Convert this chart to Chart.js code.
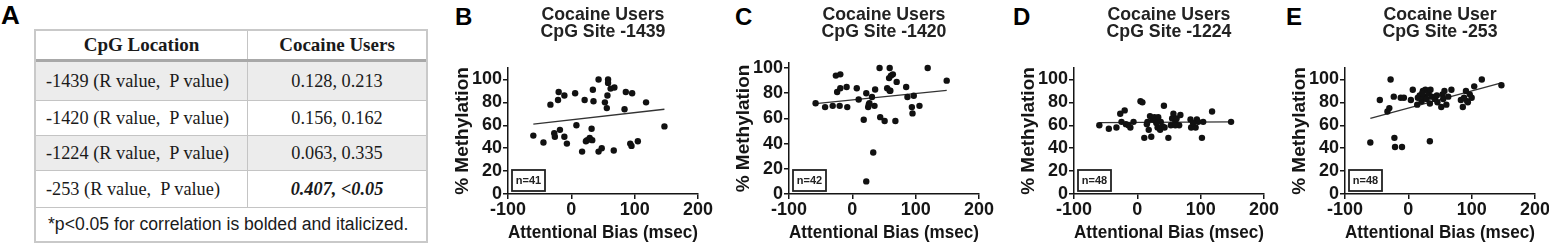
<!DOCTYPE html>
<html><head><meta charset="utf-8">
<script src="https://cdn.jsdelivr.net/npm/chart.js@4.4.1/dist/chart.umd.min.js"></script>
<style>
html,body{margin:0;padding:0;background:#fff;overflow:hidden;width:1549px;height:246px;}
body{position:relative;font-family:"Liberation Sans",Arial,sans-serif;color:#1a1a1a;}
.letter{position:absolute;font-weight:bold;font-size:24px;line-height:24px;color:#000;}
.ptitle{position:absolute;width:220px;text-align:center;font-weight:bold;font-size:17.7px;line-height:17px;color:#222;}
canvas{position:absolute;top:0;}
#tbl{position:absolute;left:34px;top:29px;width:394px;height:214px;box-sizing:border-box;border:2px solid #c9c9c9;}
.row{position:absolute;left:0;width:390px;box-sizing:border-box;border-bottom:1px solid #c4c4c4;font-family:"Liberation Serif","Times New Roman",serif;font-size:18.3px;color:#1a1a1a;}
.c1,.c2{position:absolute;top:0;height:100%;display:flex;align-items:center;}
.c1{left:0;width:212px;padding-left:10px;box-sizing:border-box;border-right:1px solid #c4c4c4;}
.c2{left:212px;width:178px;justify-content:center;}
.hdr{font-weight:bold;font-size:19px;}
.hdr .c1{justify-content:center;padding-left:0;}
.gray{background:#ececec;}
</style></head>
<body>
<div class="letter" style="left:1px;top:2px;font-size:26px;line-height:26px;">A</div>
<div id="tbl"></div>

<div class="letter" style="left:455px;top:5px;">B</div>
<div class="letter" style="left:735px;top:5px;">C</div>
<div class="letter" style="left:1013px;top:5px;">D</div>
<div class="letter" style="left:1286px;top:5px;">E</div>

<canvas id="cB" width="280" height="246" style="left:440px"></canvas>
<canvas id="cC" width="280" height="246" style="left:721px"></canvas>
<canvas id="cD" width="280" height="246" style="left:1006px"></canvas>
<canvas id="cE" width="280" height="246" style="left:1277px"></canvas>

<script>
// ---- Table (panel A) ----
const tableHeader = ["CpG Location", "Cocaine Users"];
const cpgSites = ["-1439", "-1420", "-1224", "-253"];
const corrValues = ["0.128, 0.213", "0.156, 0.162", "0.063, 0.335", "0.407, <0.05"];
const tableNote = "*p<0.05 for correlation is bolded and italicized.";

// ---- Scatter data (x = attentional bias msec, y = % methylation) ----
const biasB = [-60,-44,-33,-27,-26,-21,-20,-18,-11,-11,-7,6,8,17,21,23,25,29,32,33,34,35,43,43,48,53,56,57,58,58,62,68,67,84,86,96,93,95,105,118,147];
const methB = [51,45,78,53,50,82,89,56,86,50,44,88,60,37,82,46,47,49,57,47,91,81,100,37,40,80,75,86,100,97,92,93,38,74,89,88,44,42,46,80,59];
const fitBx = [-60, 147];
const fitBy = [61, 74];

const biasC = [-58,-43,-31,-26,-20,-19,-24,-19,-9,-8,7,10,18,22,22,25,26,31,33,35,36,43,44,51,55,59,59,58,61,64,68,70,85,87,94,95,97,106,119,149,27,60];
const methC = [72,69,70,94,70,95,81,84,85,69,84,75,59,10,80,69,71,77,33,70,83,100,61,58,84,82,100,92,94,95,58,89,85,77,69,64,78,70,100,90,72,82];
const fitCx = [-58, 149];
const fitCy = [71.7, 82.3];

const biasD = [-60,-45,-33,-27,-25,-20,-18,-14,-11,-6,5,8,11,15,18,20,22,24,27,29,32,33,36,37,40,42,43,49,53,55,57,60,62,66,68,84,85,92,94,96,102,104,118,148,16,30,60,88];
const methD = [60,57,58,70,63,73,61,60,58,63,81,80,49,61,56,68,50,65,67,64,58,67,56,63,59,77,58,49,60,66,70,63,66,60,69,65,58,58,65,63,49,63,72,63,63,62,60,62];
const fitDx = [-60, 148];
const fitDy = [62.3, 62.9];

const biasE = [-60,-45,-33,-30,-28,-23,-22,-21,-12,-10,-7,4,7,14,15,18,21,23,25,27,29,32,34,34,35,37,42,46,52,54,55,57,60,63,68,83,86,91,93,94,97,100,104,116,147,22,45,88];
const methE = [45,82,72,75,100,85,49,41,84,41,84,82,91,78,84,86,81,90,85,91,83,88,79,46,91,85,83,80,76,87,83,90,78,85,91,82,76,90,81,80,87,84,94,100,95,88,86,84];
const fitEx = [-60, 147];
const fitEy = [66, 97];

const panelTitles = [
  ["Cocaine Users", "CpG Site -1439"],
  ["Cocaine Users", "CpG Site -1420"],
  ["Cocaine Users", "CpG Site -1224"],
  ["Cocaine User", "CpG Site -253"]
];
const sampleSizes = [41, 42, 48, 48];
const yMaxes = [110, 104, 110, 110];
const xTicks = [-100, 0, 100, 200];
const yTicks = [0, 20, 40, 60, 80, 100];

// layout (pixels) per panel
const canvasLefts = [440, 721, 1006, 1277];
const plotTops = [68, 63, 68, 68];

// ---- Build table ----
(function(){
  const tbl = document.getElementById('tbl');
  const rowTops = [0, 31, 70, 105, 140, 177];
  const rowHeights = [31, 39, 35, 35, 37, 33];
  function mk(i, cls){
    const r = document.createElement('div');
    r.className = 'row ' + (cls||'');
    r.style.top = rowTops[i] + 'px';
    r.style.height = rowHeights[i] + 'px';
    tbl.appendChild(r);
    return r;
  }
  const h = mk(0, 'hdr');
  h.style.borderBottom = '3px solid #a8a8a8';
  h.innerHTML = '<div class="c1">' + tableHeader[0] + '</div><div class="c2">' + tableHeader[1] + '</div>';
  cpgSites.forEach((s, i) => {
    const r = mk(i+1, (i % 2 === 0) ? 'gray' : '');
    const val = (i === 3) ? '<b><i>' + corrValues[i] + '</i></b>' : corrValues[i];
    r.innerHTML = '<div class="c1">' + s + '&nbsp;(R value,&nbsp;&nbsp;P value)</div><div class="c2">' + val + '</div>';
  });
  const f = mk(5, '');
  f.style.borderBottom = 'none';
  f.innerHTML = '<div style="position:absolute;left:0;top:0;height:100%;width:100%;display:flex;align-items:center;padding-left:12px;box-sizing:border-box;font-family:\'Liberation Sans\',Arial,sans-serif;font-size:17.6px;">' + tableNote + '</div>';
})();

// ---- Titles ----
panelTitles.forEach((t, i) => {
  const d = document.createElement('div');
  d.className = 'ptitle';
  d.style.left = (canvasLefts[i] + 163 - 110) + 'px';
  d.style.top = '6px';
  d.innerHTML = t[0] + '<br>' + t[1];
  document.body.appendChild(d);
});

// ---- n= box plugin ----
const nBoxPlugin = {
  id: 'nbox',
  afterDatasetsDraw(chart, args, opts) {
    const {ctx, chartArea} = chart;
    const w = 33, h = 21;
    const x = chartArea.left + 4, y = chartArea.bottom - 3 - h;
    ctx.save();
    ctx.fillStyle = '#fff';
    ctx.fillRect(x, y, w, h);
    ctx.lineWidth = 1.8;
    ctx.strokeStyle = '#222';
    ctx.strokeRect(x, y, w, h);
    ctx.fillStyle = '#222';
    ctx.font = 'bold 11px "Liberation Sans", Arial, sans-serif';
    ctx.textAlign = 'center';
    ctx.textBaseline = 'middle';
    ctx.fillText('n=' + opts.n, x + w / 2, y + h / 2 + 0.5);
    ctx.restore();
  }
};

const FONT = '"Liberation Sans", Arial, sans-serif';

function makePanel(id, xs, ys, fx, fy, idx) {
  const pts = xs.map((x, i) => ({x: x, y: ys[i]}));
  const line = fx.map((x, i) => ({x: x, y: fy[i]}));
  new Chart(document.getElementById(id), {
    type: 'scatter',
    data: {
      datasets: [
        {data: pts, backgroundColor: '#111', borderColor: '#111', pointRadius: 3.2, pointHoverRadius: 3.2, borderWidth: 0},
        {type: 'line', data: line, borderColor: '#333', borderWidth: 1.3, pointRadius: 0, fill: false, tension: 0}
      ]
    },
    plugins: [nBoxPlugin],
    options: {
      responsive: false,
      animation: false,
      devicePixelRatio: 1,
      layout: {padding: {top: plotTops[idx], right: 22, bottom: 0, left: 0}},
      plugins: {legend: {display: false}, tooltip: {enabled: false}, title: {display: false}, nbox: {n: sampleSizes[idx]}},
      scales: {
        x: {
          type: 'linear', min: xTicks[0], max: xTicks[xTicks.length - 1],
          afterBuildTicks(s) { s.ticks = xTicks.map(v => ({value: v})); },
          ticks: {font: {family: FONT, size: 18, weight: 'bold'}, color: '#151515', padding: 0, maxRotation: 0, autoSkip: false},
          grid: {drawOnChartArea: false, drawTicks: true, tickLength: 5, color: '#151515', lineWidth: 1.5},
          border: {display: true, color: '#151515', width: 1.5},
          title: {display: true, text: 'Attentional Bias (msec)', color: '#151515', font: {family: FONT, size: 18.2, weight: 'bold'}, padding: {top: 0, bottom: 2}},
          afterFit(s) { s.height = 52; }
        },
        y: {
          type: 'linear', min: 0, max: yMaxes[idx],
          afterBuildTicks(s) { s.ticks = yTicks.map(v => ({value: v})); },
          ticks: {font: {family: FONT, size: 18, weight: 'bold'}, color: '#151515', padding: 1, autoSkip: false},
          grid: {drawOnChartArea: false, drawTicks: true, tickLength: 5, color: '#151515', lineWidth: 1.5},
          border: {display: true, color: '#151515', width: 1.5},
          title: {display: true, text: '% Methylation', color: '#151515', font: {family: FONT, size: 19, weight: 'bold'}, padding: {top: 11, bottom: 0}},
          afterFit(s) { s.width = 68; }
        }
      }
    }
  });
}

makePanel('cB', biasB, methB, fitBx, fitBy, 0);
makePanel('cC', biasC, methC, fitCx, fitCy, 1);
makePanel('cD', biasD, methD, fitDx, fitDy, 2);
makePanel('cE', biasE, methE, fitEx, fitEy, 3);
</script>
</body></html>
